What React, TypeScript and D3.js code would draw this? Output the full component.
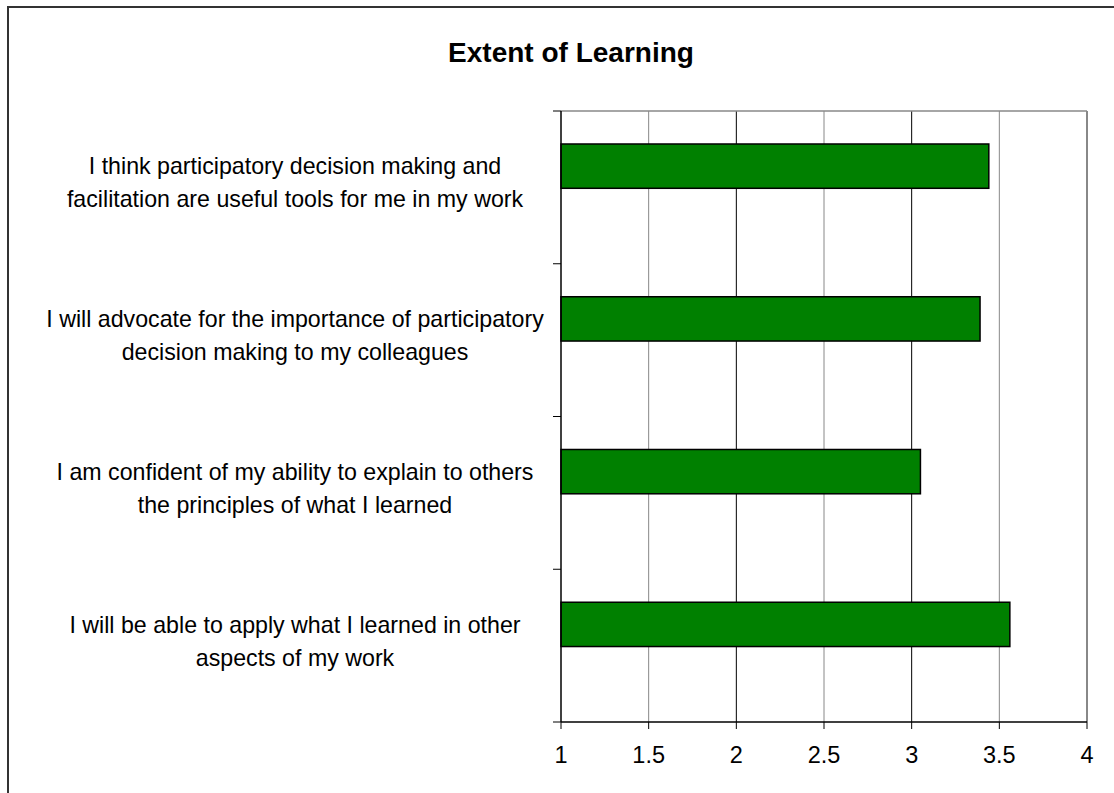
import React from "react";
import * as d3 from "d3";

// survey statements, top to bottom
const statements = [
  ["I think participatory decision making and", "facilitation are useful tools for me in my work"],
  ["I will advocate for the importance of participatory", "decision making to my colleagues"],
  ["I am confident of my ability to explain to others", "the principles of what I learned"],
  ["I will be able to apply what I learned in other", "aspects of my work"],
];
const scores = [3.44, 3.39, 3.05, 3.56];
const xTicks = [1, 1.5, 2, 2.5, 3, 3.5, 4];

const title = "Extent of Learning";

export default function App() {
  const width = 1114;
  const height = 793;
  const plot = { left: 561, right: 1087, top: 111, bottom: 722 };
  const font = "'Liberation Sans', Arial, sans-serif";

  const x = d3.scaleLinear().domain([1, 4]).range([plot.left, plot.right]);
  const y = d3
    .scaleBand<number>()
    .domain(d3.range(statements.length))
    .range([plot.top, plot.bottom])
    .padding(0);

  const band = y.bandwidth();
  // excel style cluster: bar sits in the upper half of the band (empty 2nd series below)
  const barOffset = band * 0.216;
  const barH = band * 0.29;

  const catTicks = d3.range(statements.length + 1).map((i) => plot.top + i * band);

  return (
    <svg
      width={width}
      height={height}
      style={{ position: "absolute", left: 0, top: 0, background: "#fff" }}
    >
      {/* outer chart border, right and bottom edges fall outside */}
      <rect x={8} y={7} width={1200} height={900} fill="none" stroke="#333" strokeWidth={2} />

      <text
        x={571}
        y={62}
        textAnchor="middle"
        fontFamily={font}
        fontWeight="bold"
        fontSize={28}
      >
        {title}
      </text>

      {/* gridlines */}
      {xTicks.slice(1).map((t) => (
        <line
          key={"g" + t}
          x1={x(t)}
          x2={x(t)}
          y1={plot.top}
          y2={plot.bottom}
          stroke={Number.isInteger(t) && t < 4 ? "#000" : "#888"}
          strokeWidth={t === 4 ? 2 : 1}
        />
      ))}
      <line x1={plot.left} x2={plot.right} y1={plot.top} y2={plot.top} stroke="#888" strokeWidth={1.5} />

      {/* bars */}
      {scores.map((v, i) => (
        <rect
          key={i}
          x={x(1)}
          y={(y(i) as number) + barOffset}
          width={x(v) - x(1)}
          height={barH}
          fill="#008000"
          stroke="#000"
          strokeWidth={1.5}
        />
      ))}

      {/* axes */}
      <line x1={plot.left} x2={plot.left} y1={plot.top} y2={plot.bottom} stroke="#000" strokeWidth={1.5} />
      <line x1={plot.left} x2={plot.right} y1={plot.bottom} y2={plot.bottom} stroke="#000" strokeWidth={1.5} />
      {catTicks.map((t, i) => (
        <line key={"ct" + i} x1={plot.left - 8} x2={plot.left} y1={t} y2={t} stroke="#000" strokeWidth={1} />
      ))}
      {xTicks.map((t) => (
        <g key={"xt" + t}>
          <line x1={x(t)} x2={x(t)} y1={plot.bottom} y2={plot.bottom + 7} stroke="#000" strokeWidth={1} />
          <text x={x(t)} y={763} textAnchor="middle" fontFamily={font} fontSize={23.5}>
            {t}
          </text>
        </g>
      ))}

      {/* category labels */}
      {statements.map((lines, i) => {
        const cy = (y(i) as number) + band / 2;
        return (
          <text key={"l" + i} x={295} textAnchor="middle" fontFamily={font} fontSize={23.2}>
            {lines.map((ln, j) => (
              <tspan key={j} x={295} y={cy - 13 + j * 33}>
                {ln}
              </tspan>
            ))}
          </text>
        );
      })}
    </svg>
  );
}
